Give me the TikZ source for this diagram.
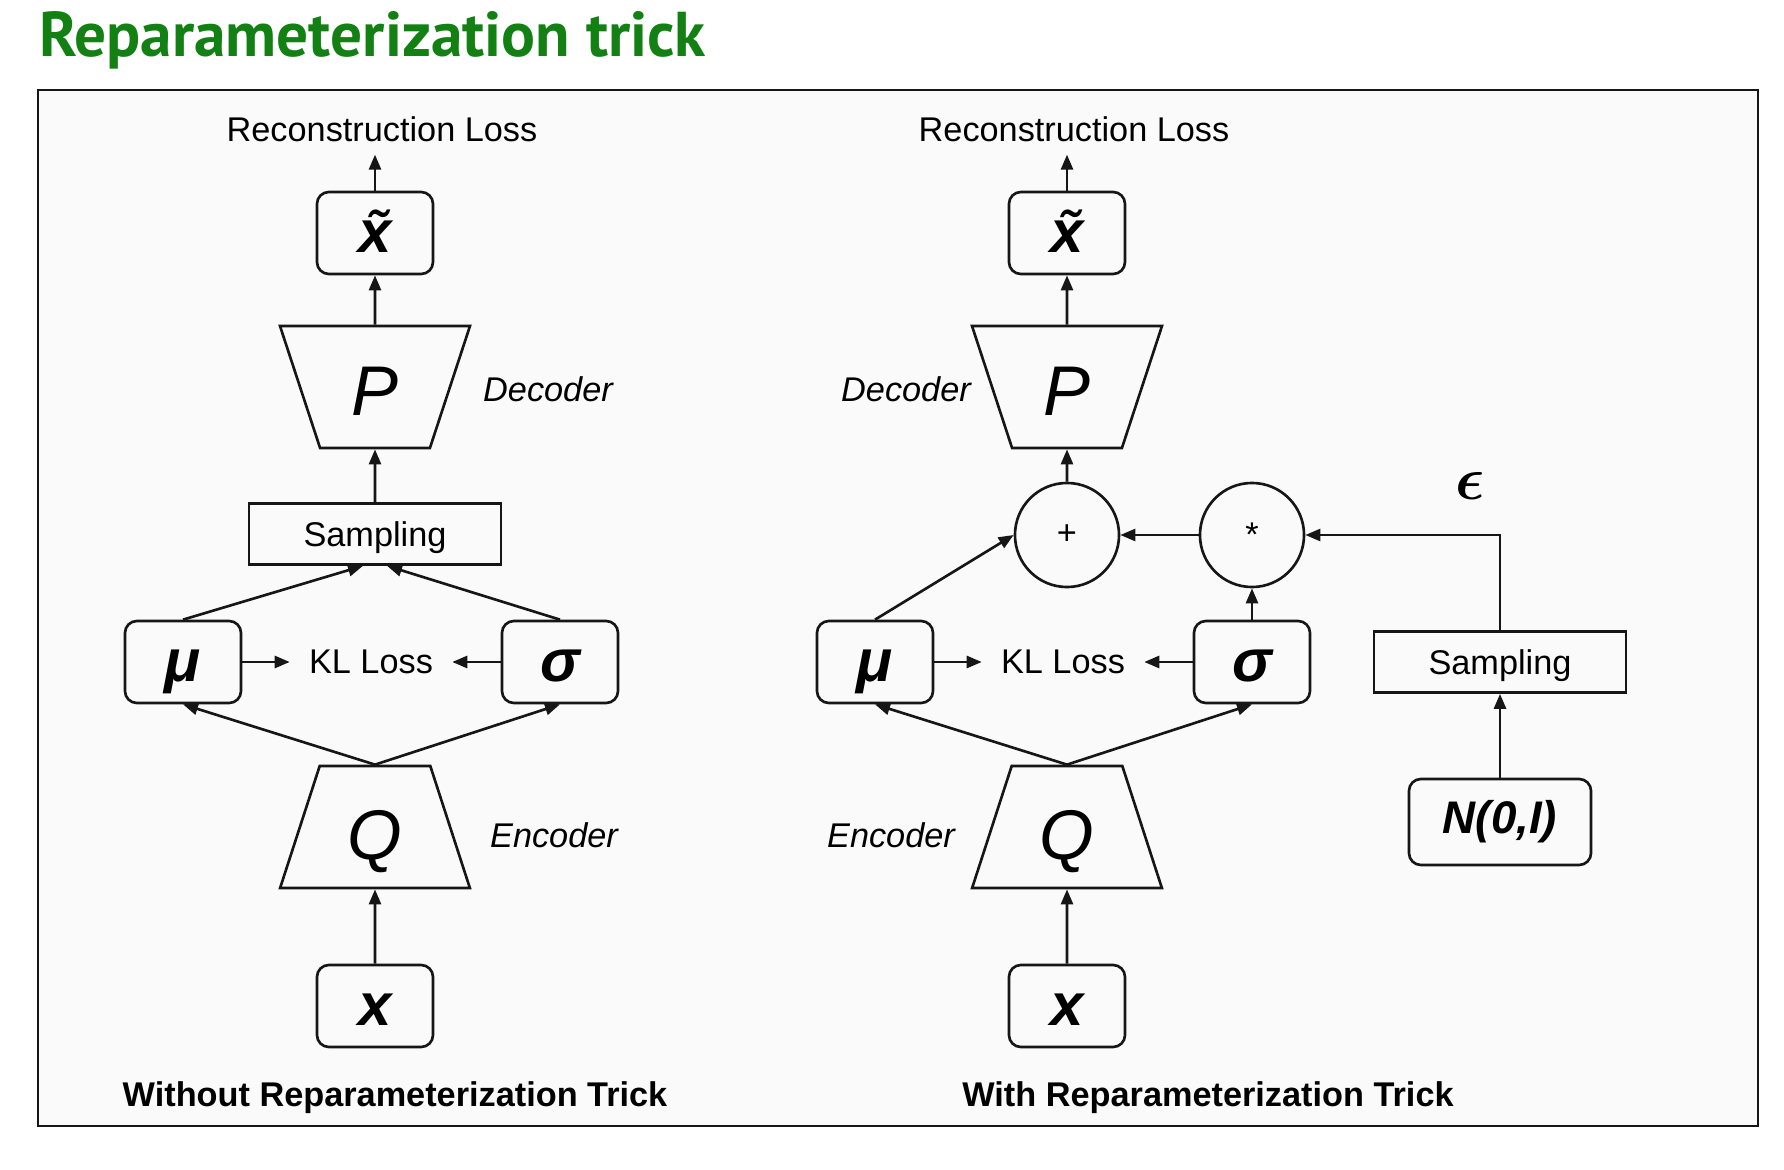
\documentclass[tikz,border=0pt]{standalone}
\usepackage{amsmath}
\usepackage{fontspec}
\setmainfont{Liberation Sans}
\newfontfamily\titlefont{PT Sans}
\usepackage{tikz}
\usetikzlibrary{shapes.geometric, arrows.meta}
\definecolor{titlegreen}{RGB}{18,128,18}
\definecolor{panelgray}{RGB}{250,250,250}
\definecolor{ink}{RGB}{22,22,22}
\newcommand{\labfont}{\fontsize{9.75}{11.7}\selectfont}
\newcommand{\varfont}{\fontsize{17}{20}\selectfont\bfseries\itshape}
%% x with a tilde on top (combining tilde)
\newcommand{\xtil}{x\char"0303}
\tikzset{
every picture/.style={line width=0.75pt, >={Triangle[length=0.15cm,width=0.12cm]}},
%%%%%%%%%%  Node styles
varbox/.style={draw=ink, rounded corners=0.12cm, minimum width=1.16cm,
                minimum height=0.82cm, inner sep=0pt, font=\varfont},
symbox/.style={varbox, text height=0.39cm, text depth=0pt},
samplebox/.style={draw=ink, minimum width=2.52cm, minimum height=0.61cm,
                  inner sep=0pt, text height=0.25cm, text depth=0pt},
encshape/.style={draw=ink, trapezium, trapezium left angle=73,
                 trapezium right angle=73, trapezium stretches=true,
                 minimum width=1.9cm, minimum height=1.22cm, inner sep=0pt,
                 text height=0.64cm, text depth=0pt,
                 font=\fontsize{20}{24}\selectfont\itshape},
decshape/.style={encshape, trapezium left angle=107, trapezium right angle=107,
                 text height=0.56cm},
opcircle/.style={draw=ink, circle, minimum size=1.04cm, inner sep=0pt},
netlabel/.style={font=\labfont\itshape},
caption/.style={font=\labfont\bfseries},
%%%%%%% connectors
flow/.style={->, draw=ink}
}

\begin{document}
\begin{tikzpicture}[x=0.01cm, y=-0.01cm, font=\labfont]
\useasboundingbox (0,0) rectangle (1784,1170);
\node[anchor=base west, inner sep=0, text=titlegreen,
      font=\titlefont\bfseries\fontsize{18}{21}\selectfont] (title) at (38,57)
      {Reparameterization trick};
\draw[draw=ink, fill=panelgray, line width=0.6pt] (38,90) rectangle (1758,1126);
%%%%%%%%%%%%%%%%%%%%%%%%%%%%%%%%%%%%%%%%%%%%%%
\begin{scope}[shift={(0,0)}]
\node (rl) at (382,129) {Reconstruction Loss};
\node[symbox] (xt) at (375,233) {\xtil};
\node[decshape] (dec) at (375,387) {P};
\node[netlabel] (declab) at (548,389) {Decoder};
\node[samplebox] (samp) at (375,534) {Sampling};
\node[symbox] (mu) at (183,662) {μ};
\node[symbox] (sig) at (560,662) {σ};
\node[inner xsep=0.18cm] (kl) at (371,662) {KL Loss};
\node[encshape] (enc) at (375,827) {Q};
\node[netlabel] (enclab) at (554,835) {Encoder};
\node[symbox] (xin) at (375,1006) {x};
\node[caption] (cap) at (395,1098) {Without Reparameterization Trick};
%% arrows
\draw[flow] (xt.north) -- (xt.north |- rl.south);
\draw[flow] (dec.north) -- (xt.south);
\draw[flow] (samp.north) -- (dec.south);
\draw[flow] (mu.north) -- ([xshift=-0.12cm]samp.south);
\draw[flow] (sig.north) -- ([xshift=0.12cm]samp.south);
\draw[flow] (mu.east) -- (kl.west);
\draw[flow] (sig.west) -- (kl.east);
\draw[flow] (enc.north) -- (mu.south);
\draw[flow] (enc.north) -- (sig.south);
\draw[flow] (xin.north) -- (enc.south);
\end{scope}
%%%%%%%%%%%%%%%%%%%%%%%%%%%%%%%%%%%%%%%%%%%%%%
\begin{scope}[shift={(692,0)}]
\node (rl) at (382,129) {Reconstruction Loss};
\node[symbox] (xt) at (375,233) {\xtil};
\node[decshape] (dec) at (375,387) {P};
\node[netlabel] (declab) at (214,389) {Decoder};
\node[opcircle] (plus) at (375,535) {+};
\node[opcircle] (mult) at (560,535) {*};
\node[font=\fontsize{19}{21}\selectfont] (eps) at (778,486) {$\boldsymbol{\epsilon}$};
\node[symbox] (mu) at (183,662) {μ};
\node[symbox] (sig) at (560,662) {σ};
\node[inner xsep=0.18cm] (kl) at (371,662) {KL Loss};
\node[samplebox] (samp) at (808,662) {Sampling};
\node[varbox, minimum width=1.82cm, minimum height=0.86cm,
      font=\fontsize{13}{15}\selectfont\bfseries\itshape] (noise) at (808,822) {N(0,I)};
\node[encshape] (enc) at (375,827) {Q};
\node[netlabel] (enclab) at (199,835) {Encoder};
\node[symbox] (xin) at (375,1006) {x};
\node[caption] (cap) at (516,1098) {With Reparameterization Trick};
%% arrows
\draw[flow] (xt.north) -- (xt.north |- rl.south);
\draw[flow] (dec.north) -- (xt.south);
\draw[flow] (plus.north) -- (dec.south);
\draw[flow] (mult.west) -- (plus.east);
\draw[flow] (mu.north) -- (plus.west);
\draw[flow] (sig.north) -- (mult.south);
\draw[flow] (samp.north) |- (mult.east);
\draw[flow] (noise.north) -- (samp.south);
\draw[flow] (mu.east) -- (kl.west);
\draw[flow] (sig.west) -- (kl.east);
\draw[flow] (enc.north) -- (mu.south);
\draw[flow] (enc.north) -- (sig.south);
\draw[flow] (xin.north) -- (enc.south);
\end{scope}
\end{tikzpicture}
\end{document}
